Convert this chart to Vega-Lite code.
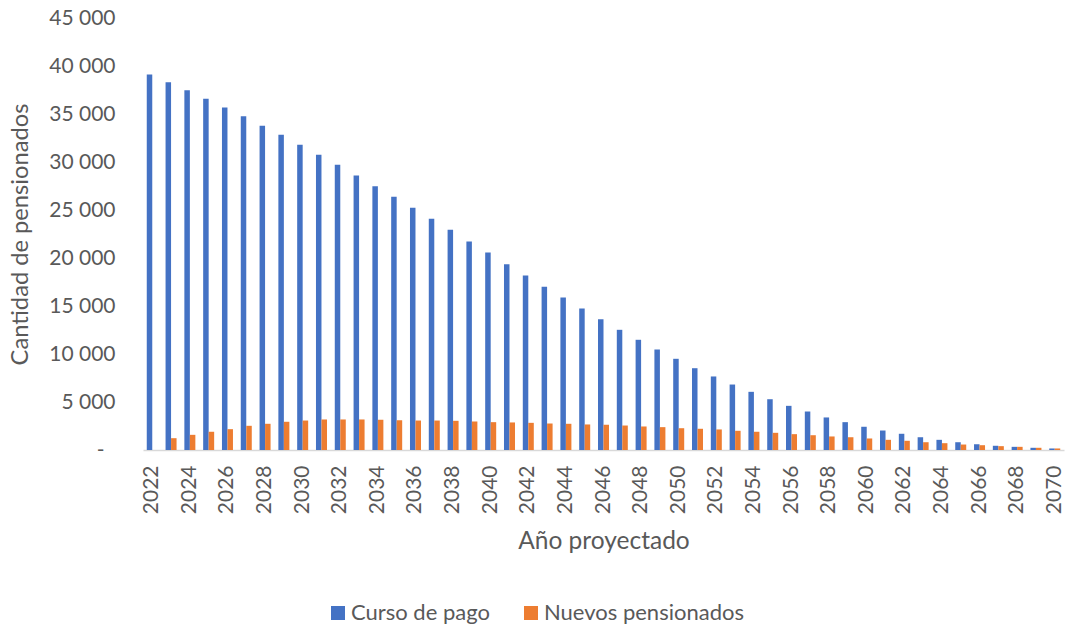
{
  "$schema": "https://vega.github.io/schema/vega-lite/v6.json",
  "autosize": {"type": "none"},
  "padding": {"left": 143, "top": 18, "right": 1, "bottom": 174},
  "width": 921,
  "height": 432,
  "background": "white",
  "config": {
    "view": {"stroke": null},
    "font": "Lato",
    "text": {"color": "#595959"}
  },
  "data": {
    "values": [
      {"year": 2022, "Curso de pago": 39115, "Nuevos pensionados": 0},
      {"year": 2023, "Curso de pago": 38310, "Nuevos pensionados": 1230},
      {"year": 2024, "Curso de pago": 37480, "Nuevos pensionados": 1580},
      {"year": 2025, "Curso de pago": 36580, "Nuevos pensionados": 1900},
      {"year": 2026, "Curso de pago": 35680, "Nuevos pensionados": 2170},
      {"year": 2027, "Curso de pago": 34770, "Nuevos pensionados": 2520},
      {"year": 2028, "Curso de pago": 33770, "Nuevos pensionados": 2730},
      {"year": 2029, "Curso de pago": 32830, "Nuevos pensionados": 2940},
      {"year": 2030, "Curso de pago": 31790, "Nuevos pensionados": 3070},
      {"year": 2031, "Curso de pago": 30750, "Nuevos pensionados": 3180},
      {"year": 2032, "Curso de pago": 29710, "Nuevos pensionados": 3180},
      {"year": 2033, "Curso de pago": 28590, "Nuevos pensionados": 3180},
      {"year": 2034, "Curso de pago": 27480, "Nuevos pensionados": 3150},
      {"year": 2035, "Curso de pago": 26380, "Nuevos pensionados": 3100},
      {"year": 2036, "Curso de pago": 25230, "Nuevos pensionados": 3070},
      {"year": 2037, "Curso de pago": 24080, "Nuevos pensionados": 3070},
      {"year": 2038, "Curso de pago": 22940, "Nuevos pensionados": 3040},
      {"year": 2039, "Curso de pago": 21720, "Nuevos pensionados": 2970},
      {"year": 2040, "Curso de pago": 20570, "Nuevos pensionados": 2900},
      {"year": 2041, "Curso de pago": 19350, "Nuevos pensionados": 2870},
      {"year": 2042, "Curso de pago": 18180, "Nuevos pensionados": 2830},
      {"year": 2043, "Curso de pago": 17000, "Nuevos pensionados": 2760},
      {"year": 2044, "Curso de pago": 15890, "Nuevos pensionados": 2730},
      {"year": 2045, "Curso de pago": 14740, "Nuevos pensionados": 2660},
      {"year": 2046, "Curso de pago": 13630, "Nuevos pensionados": 2630},
      {"year": 2047, "Curso de pago": 12520, "Nuevos pensionados": 2550},
      {"year": 2048, "Curso de pago": 11480, "Nuevos pensionados": 2450},
      {"year": 2049, "Curso de pago": 10470, "Nuevos pensionados": 2380},
      {"year": 2050, "Curso de pago": 9500, "Nuevos pensionados": 2270},
      {"year": 2051, "Curso de pago": 8520, "Nuevos pensionados": 2210},
      {"year": 2052, "Curso de pago": 7660, "Nuevos pensionados": 2140},
      {"year": 2053, "Curso de pago": 6820, "Nuevos pensionados": 2000},
      {"year": 2054, "Curso de pago": 6060, "Nuevos pensionados": 1900},
      {"year": 2055, "Curso de pago": 5290, "Nuevos pensionados": 1790},
      {"year": 2056, "Curso de pago": 4600, "Nuevos pensionados": 1650},
      {"year": 2057, "Curso de pago": 4010, "Nuevos pensionados": 1540},
      {"year": 2058, "Curso de pago": 3390, "Nuevos pensionados": 1410},
      {"year": 2059, "Curso de pago": 2900, "Nuevos pensionados": 1330},
      {"year": 2060, "Curso de pago": 2420, "Nuevos pensionados": 1200},
      {"year": 2061, "Curso de pago": 2030, "Nuevos pensionados": 1060},
      {"year": 2062, "Curso de pago": 1690, "Nuevos pensionados": 960},
      {"year": 2063, "Curso de pago": 1330, "Nuevos pensionados": 810},
      {"year": 2064, "Curso de pago": 1060, "Nuevos pensionados": 710},
      {"year": 2065, "Curso de pago": 810, "Nuevos pensionados": 570},
      {"year": 2066, "Curso de pago": 600, "Nuevos pensionados": 500},
      {"year": 2067, "Curso de pago": 440, "Nuevos pensionados": 400},
      {"year": 2068, "Curso de pago": 330, "Nuevos pensionados": 330},
      {"year": 2069, "Curso de pago": 230, "Nuevos pensionados": 230},
      {"year": 2070, "Curso de pago": 160, "Nuevos pensionados": 160}
    ]
  },
  "transform": [
    {"fold": ["Curso de pago", "Nuevos pensionados"], "as": ["serie", "valor"]}
  ],
  "mark": {"type": "bar"},
  "encoding": {
    "x": {
      "field": "year",
      "type": "ordinal",
      "scale": {"paddingInner": 0.415, "paddingOuter": 0.2},
      "axis": {
        "title": "Año proyectado",
        "values": [2022, 2024, 2026, 2028, 2030, 2032, 2034, 2036, 2038, 2040, 2042, 2044, 2046, 2048, 2050, 2052, 2054, 2056, 2058, 2060, 2062, 2064, 2066, 2068, 2070],
        "labelAngle": -90,
        "labelAlign": "right",
        "labelBaseline": "middle",
        "labelFontSize": 21,
        "labelColor": "#595959",
        "labelPadding": 15,
        "ticks": false,
        "domainColor": "#D9D9D9",
        "domainWidth": 1.5,
        "titleFontSize": 24.5,
        "titleFontWeight": "normal",
        "titleColor": "#595959",
        "titleY": 91,
        "titleBaseline": "middle"
      }
    },
    "xOffset": {"field": "serie", "type": "nominal", "sort": ["Curso de pago", "Nuevos pensionados"]},
    "y": {
      "field": "valor",
      "type": "quantitative",
      "scale": {"domain": [0, 45000], "nice": false},
      "axis": {
        "title": "Cantidad de pensionados",
        "values": [0, 5000, 10000, 15000, 20000, 25000, 30000, 35000, 40000, 45000],
        "labelExpr": "datum.value == 0 ? '-' : replace(format(datum.value, ','), ',', ' ')",
        "labelFontSize": 21,
        "labelColor": "#595959",
        "labelPadding": {"condition": {"test": "datum.value == 0", "value": 39}, "value": 28},
        "ticks": false,
        "domain": false,
        "grid": false,
        "titleFontSize": 23.7,
        "titleFontWeight": "normal",
        "titleColor": "#595959",
        "titleX": -123,
        "titleBaseline": "middle"
      }
    },
    "color": {
      "field": "serie",
      "type": "nominal",
      "sort": ["Curso de pago", "Nuevos pensionados"],
      "scale": {"domain": ["Curso de pago", "Nuevos pensionados"], "range": ["#4472C4", "#ED7D31"]},
      "legend": {
        "title": null,
        "orient": "none",
        "direction": "horizontal",
        "legendX": 184,
        "legendY": 584,
        "padding": 0,
        "symbolType": "square",
        "symbolSize": 196,
        "symbolStrokeWidth": 0,
        "symbolOpacity": 1,
        "labelFontSize": 22,
        "labelLimit": 0,
        "labelColor": "#595959",
        "labelOffset": 2,
        "columnPadding": 30
      }
    }
  }
}
